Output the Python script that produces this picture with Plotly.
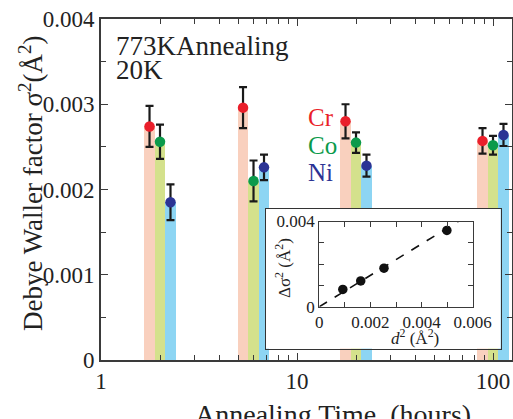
import numpy as np
import plotly.graph_objects as go

# ---- data -------------------------------------------------------------
anneal_hours = [2, 6, 20, 100]
elements = ["Cr", "Co", "Ni"]

sigma2_cr = [0.00274, 0.00296, 0.00280, 0.00257]
err_cr = [0.00024, 0.00024, 0.00020, 0.00015]
sigma2_co = [0.00256, 0.00210, 0.00255, 0.00252]
err_co = [0.00020, 0.00024, 0.00012, 0.00011]
sigma2_ni = [0.00185, 0.00226, 0.00228, 0.00264]
err_ni = [0.00021, 0.00015, 0.00013, 0.00013]

# inset: change of sigma^2 against d^2
inset_d2 = [0.00092, 0.00162, 0.00253, 0.00499]
inset_dsigma2 = [0.00081, 0.00121, 0.00181, 0.00358]
fit_d2 = [0.0, 0.00543]
fit_dsigma2 = [0.0, 0.004]

y_ticks = [0, 0.001, 0.002, 0.003, 0.004]
y_ticktext = ["0", "0.001", "0.002", "0.003", "0.004"]
x_ticks = [1, 10, 100]
x_ticktext = ["1", "10", "100"]

# ---- style --------------------------------------------------------------
marker_colors = ["#ea1f2b", "#0b9a4b", "#2b3394"]
bar_colors = ["#f9d0be", "#d4e18c", "#8dd5f3"]
AX = "#3a3a3a"
SERIF = "Liberation Serif"
TXT = "#222222"

values = [sigma2_cr, sigma2_co, sigma2_ni]
errors = [err_cr, err_co, err_ni]

# side-by-side placement of the three elements inside each time group (decades)
group_step = 0.0535
half_width = 0.0275

fig = go.Figure()

t = np.array(anneal_hours, dtype=float)
for k, name in enumerate(elements):
    centre = np.log10(t) + (k - 1) * group_step
    left = 10 ** (centre - half_width)
    right = 10 ** (centre + half_width)
    fig.add_trace(go.Bar(
        x=(left + right) / 2, y=values[k], width=right - left,
        marker=dict(color=bar_colors[k], line=dict(width=0)),
        xaxis="x", yaxis="y", showlegend=False, hoverinfo="skip",
    ))
for k, name in enumerate(elements):
    centre = np.log10(t) + (k - 1) * group_step
    fig.add_trace(go.Scatter(
        x=10 ** centre, y=values[k], mode="markers", name=name,
        marker=dict(color=marker_colors[k], size=10.5, line=dict(width=0)),
        error_y=dict(type="data", array=errors[k], color="#1a1a1a",
                     thickness=2.2, width=4),
        xaxis="x", yaxis="y", showlegend=False,
    ))

# white panel holding the inset
fig.add_trace(go.Scatter(
    x=[0, 1, 1, 0, 0], y=[0, 0, 1, 1, 0], mode="lines", fill="toself",
    fillcolor="white", line=dict(width=0), xaxis="x2", yaxis="y2",
    showlegend=False, hoverinfo="skip",
))

# inset contents
fig.add_trace(go.Scatter(
    x=fit_d2, y=fit_dsigma2, mode="lines",
    line=dict(color="#111111", width=1.6, dash="dash"),
    xaxis="x3", yaxis="y3", showlegend=False, hoverinfo="skip",
))
fig.add_trace(go.Scatter(
    x=inset_d2, y=inset_dsigma2, mode="markers",
    marker=dict(color="#111111", size=9.5),
    xaxis="x3", yaxis="y3", showlegend=False,
))

W, H = 513, 419
L, R, T, B = 101, 1, 19, 59
pw, ph = W - L - R, H - T - B


def px(xpix):
    return (xpix - L) / pw


def py(ypix):
    return (H - B - ypix) / ph


annotations = [
    dict(text="773KAnnealing", x=px(114), y=py(46), xanchor="left", yanchor="middle",
         font=dict(size=27, color=TXT, family=SERIF)),
    dict(text="20K", x=px(114), y=py(70), xanchor="left", yanchor="middle",
         font=dict(size=27, color=TXT, family=SERIF)),
    dict(text="Annealing Time&nbsp;&nbsp;(hours)", x=px(333), y=py(414),
         xanchor="center", yanchor="middle",
         font=dict(size=28, color=TXT, family=SERIF)),
    dict(text="Debye Waller factor σ<sup>2</sup>(Å<sup>2</sup>)", x=px(31), y=py(184),
         xanchor="center", yanchor="middle", textangle=-90,
         font=dict(size=27, color=TXT, family=SERIF)),
    dict(text="Δσ<sup>2</sup> (Å<sup>2</sup>)", x=px(283), y=py(268),
         xanchor="center", yanchor="middle", textangle=-90,
         font=dict(size=17, color=TXT, family=SERIF)),
    dict(text="<i>d</i><sup>2</sup> (Å<sup>2</sup>)", x=px(415), y=py(337),
         xanchor="center", yanchor="middle",
         font=dict(size=17, color=TXT, family=SERIF)),
]
for k, name in enumerate(elements):
    annotations.append(dict(
        text=name, x=px(306), y=py(118 + 27 * k), xanchor="left", yanchor="middle",
        font=dict(size=25, color=marker_colors[k], family=SERIF)))
for a in annotations:
    a.update(xref="paper", yref="paper", showarrow=False)

fig.update_layout(
    width=W, height=H, autosize=False,
    margin=dict(l=L, r=R, t=T, b=B, pad=0, autoexpand=False),
    paper_bgcolor="white", plot_bgcolor="white",
    barmode="overlay", bargap=0, showlegend=False,
    font=dict(family=SERIF, color=TXT),
    annotations=annotations,
    xaxis=dict(
        type="log", range=[0, np.log10(125)], automargin=False,
        tickmode="array", tickvals=x_ticks, ticktext=x_ticktext,
        ticks="inside", ticklen=7, tickwidth=1.3, tickcolor=AX,
        minor=dict(tickmode="array",
                   tickvals=[2, 3, 4, 5, 6, 7, 8, 9, 20, 30, 40, 50, 60, 70, 80, 90],
                   ticks="inside", ticklen=5, tickwidth=1.2, tickcolor=AX),
        showline=True, linecolor=AX, linewidth=1.6, mirror="ticks",
        showgrid=False, zeroline=False,
        tickfont=dict(size=23, color=TXT, family=SERIF),
        domain=[0, 1],
    ),
    yaxis=dict(
        range=[0, 0.004], automargin=False,
        tickmode="array", tickvals=y_ticks, ticktext=y_ticktext,
        ticks="inside", ticklen=7, tickwidth=1.3, tickcolor=AX,
        minor=dict(dtick=0.0005, ticks="inside", ticklen=5, tickwidth=1.2, tickcolor=AX),
        showline=True, linecolor=AX, linewidth=1.6, mirror="ticks",
        showgrid=False, zeroline=False,
        tickfont=dict(size=23, color=TXT, family=SERIF),
        domain=[0, 1],
    ),
    xaxis2=dict(
        domain=[px(265.5), px(500.5)], range=[0, 1], anchor="y2", automargin=False,
        showline=True, linecolor="#333333", linewidth=1.3, mirror=True,
        showticklabels=False, ticks="", showgrid=False, zeroline=False,
    ),
    yaxis2=dict(
        domain=[py(348.5), py(208.5)], range=[0, 1], anchor="x2", automargin=False,
        showline=True, linecolor="#333333", linewidth=1.3, mirror=True,
        showticklabels=False, ticks="", showgrid=False, zeroline=False,
    ),
    xaxis3=dict(
        domain=[px(319.3), px(472.7)], range=[0, 0.006], anchor="y3", automargin=False,
        tickmode="array", tickvals=[0, 0.002, 0.004, 0.006],
        ticktext=["0", "0.002", "0.004", "0.006"],
        ticks="inside", ticklen=5, tickwidth=1, tickcolor=AX,
        minor=dict(dtick=0.001, ticks="inside", ticklen=5, tickwidth=1, tickcolor=AX),
        showline=True, linecolor=AX, linewidth=1.2, mirror="ticks",
        showgrid=False, zeroline=False,
        tickfont=dict(size=17, color=TXT, family=SERIF),
    ),
    yaxis3=dict(
        domain=[py(306.7), py(221.5)], range=[0, 0.004], anchor="x3", automargin=False,
        tickmode="array", tickvals=[0, 0.004], ticktext=["0", "0.004"],
        ticks="inside", ticklen=5, tickwidth=1, tickcolor=AX,
        minor=dict(dtick=0.001, ticks="inside", ticklen=5, tickwidth=1, tickcolor=AX),
        showline=True, linecolor=AX, linewidth=1.2, mirror="ticks",
        showgrid=False, zeroline=False,
        tickfont=dict(size=17, color=TXT, family=SERIF),
    ),
)

fig.write_html("out.html")
